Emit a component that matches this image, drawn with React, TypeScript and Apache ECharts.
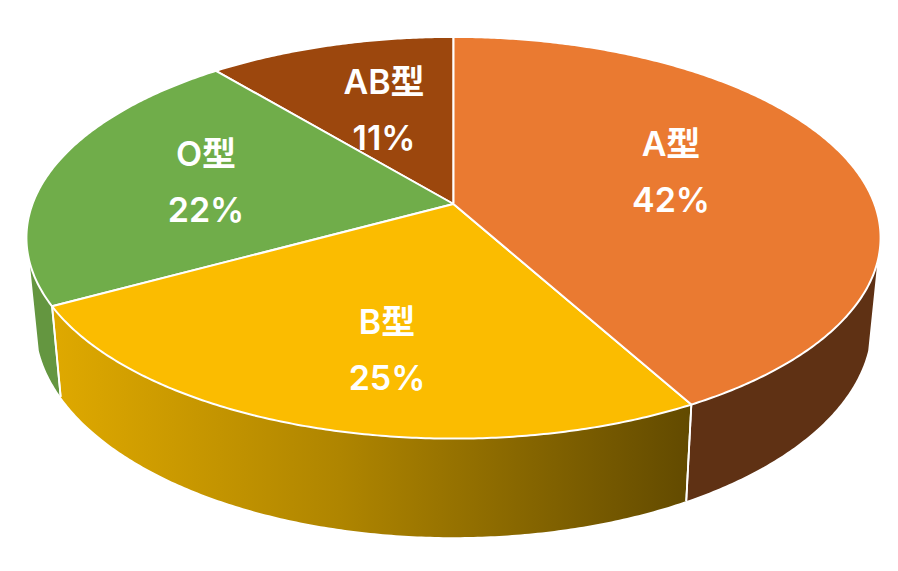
import React, { useEffect, useRef } from "react";
import * as echarts from "echarts";

const categories = ["A型", "B型", "O型", "AB型"];
const shares = [42, 25, 22, 11];

const topColors = ["#EA7A31", "#FBBC00", "#70AD4A", "#9C470D"];
const sideColors = ["#5F3114", "", "#649640", "#5A2A08"];
const labelCenters = [
  [671, 171],
  [387, 349],
  [206, 181],
  [384, 109],
];

const PERSPECTIVE = 0.168;
const TOP_FACE = { cx: 453.5, cy: 204, rx: 421, ry: 195.2 };
const BOTTOM_FACE = { cx: 453.5, cy: 288.4, rx: 412, ry: 207 };
const VISIBLE_SIDE = [106.6, 253.4];
const FONT = 'Inter, "Noto Sans CJK JP", sans-serif';

type Face = { cx: number; cy: number; rx: number; ry: number };

function project(face: Face, deg: number): number[] {
  const t = (deg * Math.PI) / 180;
  const u = Math.sin(t);
  const v = Math.cos(t);
  const d = 1 + PERSPECTIVE * v;
  return [face.cx + (face.rx * u) / d, face.cy - (face.ry * v) / d];
}

function arc(face: Face, from: number, to: number): number[][] {
  const n = Math.max(2, Math.ceil(Math.abs(to - from) * 2));
  const pts: number[][] = [];
  for (let i = 0; i <= n; i++) pts.push(project(face, from + ((to - from) * i) / n));
  return pts;
}

const total = shares.reduce((a, b) => a + b, 0);
const startAngles = shares.map((_, i) => (shares.slice(0, i).reduce((a, b) => a + b, 0) / total) * 360);
const endAngles = shares.map((s, i) => startAngles[i] + (s / total) * 360);

export default function App() {
  const ref = useRef<HTMLDivElement>(null);

  useEffect(() => {
    document.body.style.margin = "0";
    const chart = echarts.init(ref.current!, null, { renderer: "svg" });

    const sideGradient = new echarts.graphic.LinearGradient(0, 0, 1, 0, [
      { offset: 0, color: "#DFA900" },
      { offset: 0.45, color: "#AF8500" },
      { offset: 1, color: "#624A00" },
    ]);

    const sideItem = (_: any, api: any) => {
      const i = api.value(0) as number;
      const from = Math.max(startAngles[i], VISIBLE_SIDE[0]);
      const to = Math.min(endAngles[i], VISIBLE_SIDE[1]);
      if (to <= from) return { type: "group", children: [] };
      const points = [...arc(TOP_FACE, from, to), ...arc(BOTTOM_FACE, to, from)];
      const children: any[] = [
        {
          type: "polygon",
          shape: { points },
          style: { fill: i === 1 ? sideGradient : sideColors[i], stroke: null },
        },
      ];
      [startAngles[i], endAngles[i]].forEach((a) => {
        if (a > VISIBLE_SIDE[0] && a < VISIBLE_SIDE[1]) {
          const p = project(TOP_FACE, a);
          const q = project(BOTTOM_FACE, a);
          children.push({
            type: "line",
            z2: 5,
            shape: { x1: p[0], y1: p[1], x2: q[0], y2: q[1] },
            style: { stroke: "#FFFFFF", lineWidth: 1.8 },
          });
        }
      });
      return { type: "group", children };
    };

    const topItem = (_: any, api: any) => {
      const i = api.value(0) as number;
      const points = [[TOP_FACE.cx, TOP_FACE.cy], ...arc(TOP_FACE, startAngles[i], endAngles[i])];
      const [lx, ly] = labelCenters[i];
      const label = (text: string, y: number) => ({
        type: "text",
        x: lx,
        y,
        style: {
          text,
          fill: "#FFFFFF",
          fontFamily: FONT,
          fontWeight: 600,
          fontSize: 34,
          align: "center",
          verticalAlign: "middle",
        },
      });
      return {
        type: "group",
        children: [
          {
            type: "polygon",
            shape: { points },
            style: { fill: topColors[i], stroke: "#FFFFFF", lineWidth: 2, lineJoin: "round" },
          },
          label(categories[i], ly - 28),
          label(`${shares[i]}%`, ly + 28),
        ],
      };
    };

    const indices = categories.map((_, i) => [i]);

    chart.setOption({
      animation: false,
      backgroundColor: "#FFFFFF",
      series: [
        { type: "custom", coordinateSystem: "none", silent: true, renderItem: sideItem, data: indices, z: 1 },
        // Later slices are painted first: in the original the O slice covers part of the AB label.
        { type: "custom", coordinateSystem: "none", silent: true, renderItem: topItem, data: [...indices].reverse(), z: 2 },
      ],
    });
    return () => chart.dispose();
  }, []);

  return <div ref={ref} style={{ width: 898, height: 571 }} />;
}
